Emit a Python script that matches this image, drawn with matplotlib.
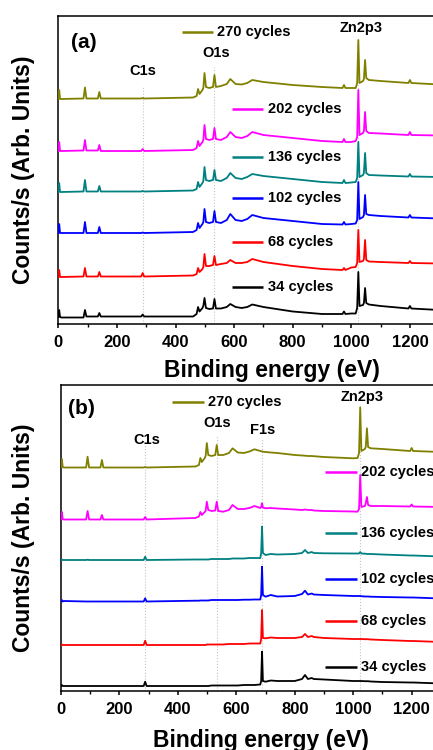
import matplotlib.pyplot as plt
from matplotlib.ticker import FixedLocator

# ---- data (intensity in arbitrary units) ----
labels = ['270 cycles', '202 cycles', '136 cycles', '102 cycles', '68 cycles', '34 cycles']
colors = ['#808000', '#FF00FF', '#008080', '#0000FF', '#FF0000', '#000000']
major_ticks = [0, 200, 400, 600, 800, 1000, 1200]
minor_ticks = [100, 300, 500, 700, 900, 1100, 1300]

# panel (a)
energy_a = [0, 3, 6, 10, 86, 91, 96, 135, 140, 145, 283, 288, 293, 460, 472, 477, 482,
            492, 495, 499, 504, 515, 528, 533, 538, 555, 575, 587, 605, 626, 645, 662,
            700, 800, 900, 970, 975, 980, 1000, 1015, 1020, 1024, 1028, 1040, 1043,
            1047, 1051, 1060, 1100, 1195, 1200, 1205, 1300]
a_270 = [226, 235, 226, 226, 226.5, 237.5, 226.5, 226.5, 233, 226.5, 226.5, 227, 226.5,
         227.5, 229, 236, 231, 235, 237, 252, 238, 237, 238, 250, 238, 239, 241, 246,
         241, 240.5, 242, 245, 243, 240, 238, 237, 240, 237, 237, 237, 242, 285, 242,
         244, 246, 265, 247, 245, 244, 242, 245, 242, 240.5]
a_202 = [174, 183, 174, 174, 174.5, 185, 174.5, 174.5, 180, 174, 174, 176, 174, 175, 177,
         184, 179, 183, 185, 200, 186, 185, 186, 197, 186, 185, 188, 193, 188, 187, 189,
         193, 190, 187, 184, 183, 186, 183, 183, 184, 188, 235, 190, 192, 194, 213, 194,
         192, 191.5, 190, 193, 190, 189.5]
a_136 = [133, 142, 133, 133, 133.5, 145, 133.5, 133.5, 139, 133.5, 133.5, 134, 133.5,
         134.5, 136, 143, 138, 142, 144, 158, 145, 144, 145, 155, 145, 144, 147, 152, 147,
         146, 148, 151, 149, 146, 143, 142, 145, 142, 142.5, 143, 147, 183, 148, 150, 152,
         172, 152, 150, 149.5, 148.5, 151, 148.5, 148]
a_102 = [92, 101, 92, 92, 92, 103, 92, 92, 98, 92, 92, 92.5, 92, 93, 95, 102, 97, 101,
         103, 116, 103, 102, 103, 114, 103, 102, 105, 111, 105, 104, 106, 110, 107, 104,
         101, 100.5, 103, 100.5, 101, 101.5, 105, 143, 106, 108, 110, 130, 111, 110, 109,
         107.5, 110, 107.5, 106.5]
a_68 = [48, 55, 48, 48, 48.5, 57, 48.5, 48.5, 53, 48.5, 48.5, 52, 48.5, 49.5, 51, 57, 53,
        56, 58, 71, 59, 59, 60, 69, 60, 61, 62, 65, 62, 62, 63, 66, 63, 59, 56, 55, 57,
        55, 57.5, 58, 62, 95, 63, 64, 66, 85, 65, 63.5, 63, 62, 64, 62, 61.5]
a_34 = [8, 15, 8, 7.5, 7.5, 15, 8.5, 8.5, 12, 8.5, 8.5, 10.5, 8.5, 8.5, 11, 18, 13.5, 17,
        19, 27, 17, 16, 16.5, 26, 16.5, 16.5, 18, 21, 18, 17, 18, 20.5, 18, 13.5, 11, 11,
        13.5, 11, 11.5, 11.5, 17, 53, 19, 20, 22, 37, 22, 20.5, 19, 16.5, 19, 16.5, 15]

# panel (b)
energy_b = [0, 3, 6, 10, 86, 91, 96, 135, 140, 145, 283, 288, 293, 460, 472, 477, 482,
            492, 495, 499, 504, 515, 528, 533, 538, 555, 575, 587, 605, 626, 645, 662,
            682, 685, 688, 691, 700, 718, 740, 800, 825, 835, 845, 852, 858, 865, 900,
            1000, 1015, 1020, 1024, 1028, 1040, 1043, 1047, 1051, 1060, 1100, 1195, 1200,
            1205, 1300]
b_270 = [225.7, 234, 225.7, 225.5, 225.5, 236.3, 225.5, 225.5, 233, 225.5, 225.5, 226,
         225.5, 226.5, 228, 235, 231, 235, 237, 250, 238, 237, 238, 248, 238, 238, 240,
         244.7, 240.5, 240, 241.5, 243.7, 242, 241.8, 241.5, 241.3, 241, 240.5, 240, 238,
         237.5, 237.3, 237, 237, 237, 236.8, 236, 234.7, 235, 240, 285.7, 242, 244, 246,
         264.7, 246, 244.7, 244, 242, 245, 242, 241]
b_202 = [173.7, 181, 173.7, 173.5, 173.5, 182, 173.5, 173.5, 178, 173.5, 173.5, 176,
         173.5, 175, 176.5, 181, 178, 181, 182, 191.3, 183, 182, 182.5, 191.3, 182, 181.3,
         183, 188, 184, 184, 185, 187, 185, 186, 189.7, 185.5, 184.7, 185, 184.5, 183.5,
         183, 183.5, 183, 183, 183, 182.5, 182, 181.5, 181.3, 184, 218, 186, 187, 190,
         196, 188, 187, 187, 186.5, 188.5, 186.5, 186]
b_136 = [133, 133.5, 133, 133, 133, 133.3, 133, 133, 133, 133, 133, 136.3, 133, 133.5,
         133.5, 133.5, 133.5, 133.5, 133.5, 133.5, 133.5, 134, 134, 134, 134, 134, 134,
         134.5, 134.5, 134.5, 135, 135, 135, 140, 166.3, 140, 138, 139, 138.5, 139, 140,
         143, 140, 140.5, 141, 140, 139.7, 139.5, 139.5, 139.5, 141, 139.5, 139.3, 139.3,
         139, 139, 139, 138.5, 137.5, 137.5, 137.5, 136.5]
b_102 = [91.5, 93, 91.5, 92, 91.5, 91.5, 91.5, 91.5, 91.5, 91.5, 91.5, 94.7, 91.5, 92.3,
         92.3, 92.5, 92.5, 92.5, 92.5, 92.5, 92.5, 93, 93, 93, 93, 93, 93, 93, 93, 93.3,
         93.3, 93.5, 93.5, 98, 126.3, 98, 96.3, 98, 96.5, 97, 99, 102.3, 98.5, 99, 99.5,
         98.5, 98, 97, 97, 97, 97, 96.8, 96.5, 96.5, 96.5, 96.5, 96.3, 96, 95.5, 95.5,
         95.5, 94.5]
b_68 = [48, 48.5, 48, 48, 48, 48, 48, 48, 48, 48, 48, 52.3, 48, 48, 48, 48, 48, 48, 48,
        48.5, 48.5, 48.5, 48.5, 48.5, 48.5, 48.5, 49, 49, 49, 49, 49.5, 49.5, 49.5, 54,
        83, 55, 54.7, 55.5, 55, 55, 56, 59, 56, 56.5, 57, 56, 55, 54, 54, 54, 54, 54,
        53.8, 53.8, 53.8, 53.8, 53.5, 53, 52, 52, 52, 51]
b_34 = [7, 8, 7, 7, 7, 7, 7, 7, 7, 7, 7, 11.3, 7, 7, 7, 7, 7, 7, 7, 7, 7, 7.5, 7.5, 7.5,
        7.5, 7.5, 7.5, 7.5, 7.5, 8, 8, 8, 8.5, 12, 41.3, 12, 11.3, 12.5, 12, 12, 14, 18,
        14, 14.5, 15, 14, 13.5, 12, 12, 12, 12, 12, 11.8, 11.8, 11.8, 11.8, 11.5, 11,
        10.5, 10.5, 10.5, 9.5]

series_a = [a_270, a_202, a_136, a_102, a_68, a_34]
series_b = [b_270, b_202, b_136, b_102, b_68, b_34]

# peak marker energies (eV)
peaks_a = {'C1s': 288, 'O1s': 533, 'Zn2p3': 1024}
peaks_b = {'C1s': 288, 'O1s': 533, 'F1s': 687, 'Zn2p3': 1024}

plt.rcParams['font.family'] = ['Liberation Sans', 'DejaVu Sans']
plt.rcParams['font.weight'] = 'bold'

W, H = 433, 750
fig = plt.figure(figsize=(W / 100, H / 100), dpi=100)

# axes placed in pixels; right side runs past the figure edge like the original crop
ax_a = fig.add_axes([58.3 / W, (H - 324) / H, 1400 * 0.293 / W, (324 - 15.5) / H])
ax_b = fig.add_axes([61 / W, (H - 691) / H, 1400 * 0.2922 / W, (691 - 385) / H])
ax_a.set_ylim(1, 309.5)
ax_b.set_ylim(2, 308)

for ax in (ax_a, ax_b):
    ax.set_xlim(0, 1400)
    ax.xaxis.set_major_locator(FixedLocator(major_ticks))
    ax.xaxis.set_minor_locator(FixedLocator(minor_ticks))
    ax.tick_params(axis='x', which='major', direction='out', length=3.2, width=1.1,
                   labelsize=12, pad=4.5)
    ax.tick_params(axis='x', which='minor', direction='out', length=2, width=1.0)
    ax.tick_params(axis='y', left=False, labelleft=False)
    for s in ax.spines.values():
        s.set_linewidth(1.1)

for s, c in zip(series_a, colors):
    ax_a.plot(energy_a, s, color=c, lw=1.3, zorder=3)
for s, c in zip(series_b, colors):
    ax_b.plot(energy_b, s, color=c, lw=1.3, zorder=3)

# dotted guide lines
grid_kw = dict(colors='#C4C4C4', linestyles=':', lw=0.8, zorder=1)
ax_a.vlines(peaks_a['C1s'], 1, 238, **grid_kw)
ax_a.vlines(peaks_a['O1s'], 1, 258, **grid_kw)
ax_a.vlines(peaks_a['Zn2p3'], 1, 280, **grid_kw)
ax_b.vlines(peaks_b['C1s'], 2, 248, **grid_kw)
ax_b.vlines(peaks_b['O1s'], 2, 258, **grid_kw)
ax_b.vlines(peaks_b['F1s'], 2, 255, **grid_kw)
ax_b.vlines(peaks_b['Zn2p3'], 2, 283, **grid_kw)

# peak labels
ax_a.text(290, 254, 'C1s', ha='center', va='center', fontsize=10.5)
ax_a.text(540, 271.7, 'O1s', ha='center', va='center', fontsize=10.5)
ax_a.text(1035, 296.7, 'Zn2p3', ha='center', va='center', fontsize=10.5)
ax_a.text(45, 282.3, '(a)', ha='left', va='center', fontsize=15)
ax_b.text(293, 253, 'C1s', ha='center', va='center', fontsize=10.5)
ax_b.text(535, 269.7, 'O1s', ha='center', va='center', fontsize=10.5)
ax_b.text(690, 263, 'F1s', ha='center', va='center', fontsize=10.5)
ax_b.text(1029, 295.7, 'Zn2p3', ha='center', va='center', fontsize=10.5)
ax_b.text(24, 284.7, '(b)', ha='left', va='center', fontsize=15)

# series labels (line sample + text), Origin style
key_a = [(421, 529, 292.7), (592, 700, 216), (592, 700, 168.3),
         (592, 700, 126.7), (592, 700, 83.3), (592, 700, 37.7)]
key_b = [(379, 489, 291.3), (903, 1012, 220.7), (903, 1012, 159.7),
         (903, 1012, 113.7), (903, 1012, 72.3), (903, 1012, 26.3)]
for ax, keys in ((ax_a, key_a), (ax_b, key_b)):
    for (x0, x1, y), lab, c in zip(keys, labels, colors):
        ax.hlines(y, x0, x1, colors=c, lw=1.8, zorder=4)
        ax.text(x1 + 14, y, lab, ha='left', va='center', fontsize=10.5, zorder=4)

# axis titles
fig.text(24 / W, 1 - 169.5 / H, 'Counts/s (Arb. Units)', rotation=90,
         ha='center', va='center', fontsize=16.5)
fig.text(24 / W, 1 - 538 / H, 'Counts/s (Arb. Units)', rotation=90,
         ha='center', va='center', fontsize=16.5)
fig.text(271.7 / W, 1 - 376.5 / H, 'Binding energy (eV)', ha='center',
         va='baseline', fontsize=16.5)
fig.text(261 / W, 1 - 746.5 / H, 'Binding energy (eV)', ha='center',
         va='baseline', fontsize=16.5)

fig.savefig('out.png', dpi=100)
